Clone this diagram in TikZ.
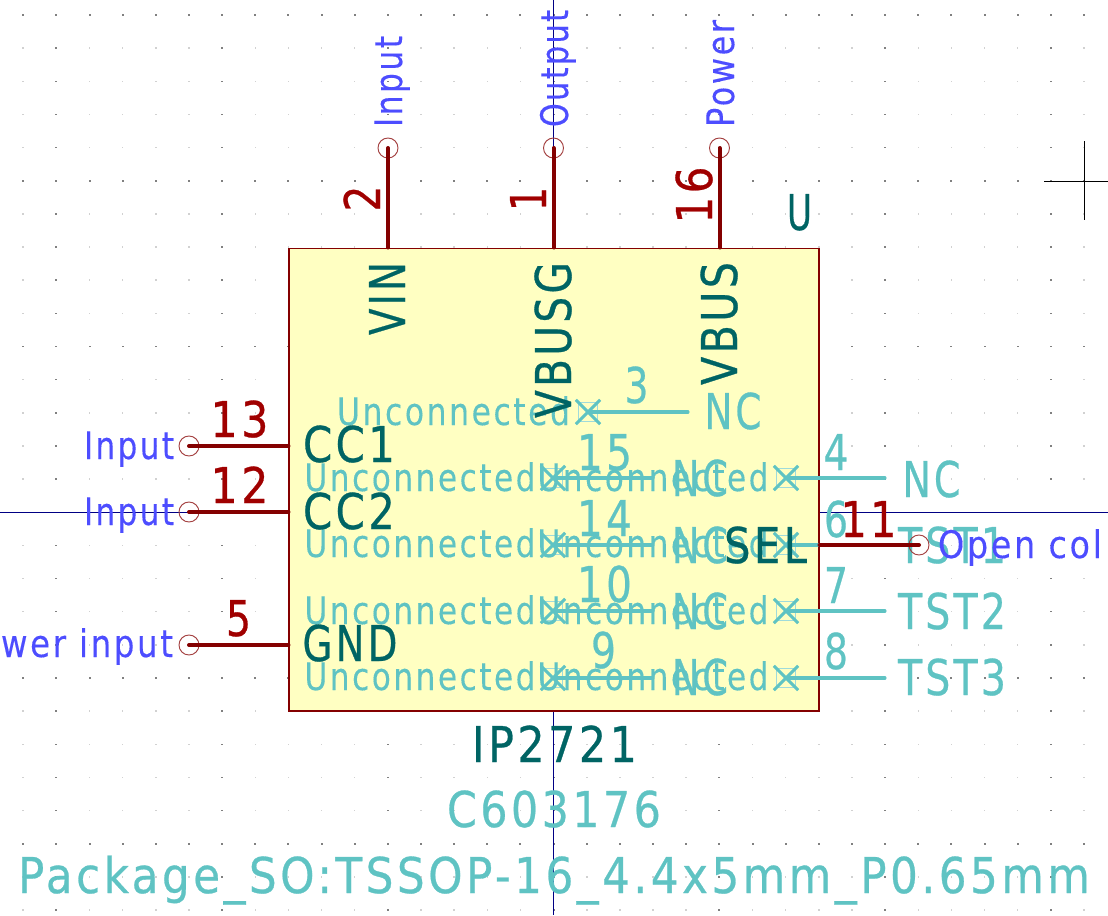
\documentclass[tikz,border=0pt]{standalone}
\usepackage{fontspec}
\usepackage{graphicx}
\usetikzlibrary{shapes.misc}
\newfontfamily\kfont[LetterSpace=8,FakeBold=0.25]{DejaVu Sans}
\newfontfamily\kfontl[LetterSpace=8,FakeBold=0.6]{DejaVu Sans}
\newcommand{\tx}[2]{\resizebox{\dimexpr0.75pt*#1\relax}{\height}{#2}}
\definecolor{bodyfill}{HTML}{FFFFC2}
\definecolor{pinred}{HTML}{840000}
\definecolor{numred}{HTML}{A00000}
\definecolor{lblblue}{HTML}{4D4DFF}
\definecolor{nameteal}{HTML}{006464}
\definecolor{hidteal}{HTML}{5FC3C3}
\definecolor{axisblue}{HTML}{000084}
\tikzset{
 x=0.75pt,y=-0.75pt,
 ktxt/.style={anchor=base,inner sep=0pt,outer sep=0pt},
 ksmall/.style={ktxt,font=\kfont\fontsize{28.5pt}{30pt}\selectfont},
 klarge/.style={ktxt,font=\kfontl\fontsize{37pt}{40pt}\selectfont},
 lbl/.style={ksmall,text=lblblue},
 hidsmall/.style={ksmall,text=hidteal},
 hidlarge/.style={klarge,text=hidteal},
 pinname/.style={klarge,text=nameteal},
 pinnum/.style={klarge,text=numred},
 hidnum/.style={klarge,text=hidteal},
 pinline/.style={draw=pinred,line width=3pt,line cap=round},
 hidline/.style={draw=hidteal,line width=2.3pt,line cap=round},
 pincirc/.style={circle,draw=pinred!75,line width=0.7pt,minimum size=15pt,inner sep=0pt},
 ncx/.style={cross out,draw=hidteal,line width=2.2pt,minimum size=16pt,inner sep=0pt},
 ncbox/.style={rectangle,draw=hidteal!60,line width=0.6pt,minimum size=14pt,inner sep=0pt},
 bodybox/.style={rectangle,draw=pinred,fill=bodyfill,line width=0.8pt,minimum width=397.5pt,minimum height=347.2pt,inner sep=0pt},
}
\begin{document}
\begin{tikzpicture}
\useasboundingbox (0,0) rectangle (1108,915);
% grid
\foreach \i in {0,...,32}{\foreach \j in {0,...,27}{
  \pgfmathtruncatemacro{\mi}{mod(\i,5)==1 ? 1 : 0}
  \pgfmathtruncatemacro{\mj}{mod(\j,5)==0 ? 1 : 0}
  \pgfmathtruncatemacro{\dk}{\mi+\mj}
  \ifnum\dk>0
    \fill[black!50] ({23.2+33.15*\i-1},{15+33.15*\j-0.75}) rectangle ++(2,1.5);
  \else
    \fill[black!18] ({23.2+33.15*\i-0.75},{15+33.15*\j-0.75}) rectangle ++(1.5,1.5);
  \fi
}}
% axes and cursor
\coordinate (axL) at (0,512); \coordinate (axR) at (1108,512);
\coordinate (axT) at (553.5,0); \coordinate (axB) at (553.5,915);
\draw[axisblue,line width=0.75pt] (axL) -- (axR);
\draw[axisblue,line width=0.75pt] (axT) -- (axB);
\coordinate (curL) at (1044,181); \coordinate (curR) at (1108,181);
\coordinate (curT) at (1084,141); \coordinate (curB) at (1084,220);
\draw[black,line width=0.75pt] (curL) -- (curR);
\draw[black,line width=0.75pt] (curT) -- (curB);
% body
\node[bodybox] (body) at (554,479.5) {};
% hidden pins
\foreach \n/\xa/\xb/\y in {3/588/688/412,15/553/653/478,14/553/653/545,10/553/653/611,9/553/653/678,4/786/885/478,6/786/885/545,7/786/885/611,8/786/885/678}{
  \node[ncbox] (box\n) at (\xa,\y) {};
  \node[ncx] (nc\n) at (\xa,\y) {};
  \coordinate (end\n) at (\xb,\y);
  \draw[hidline] (nc\n.center) -- (end\n);
}
% hidden texts
\node[hidsmall] (u3) at (453.5,425) {\tx{233}{Unconnected}};
\foreach \n/\y in {15/491,14/557,10/624,9/690}{\node[hidsmall] (ua\n) at (420,\y) {\tx{231}{Unconnected}};}
\foreach \n/\y in {4/491,6/557,7/624,8/690}{\node[hidsmall] (ub\n) at (653,\y) {\tx{231}{Unconnected}};}
\node[hidlarge] (nc3t) at (733,429) {\tx{57}{NC}};
\foreach \n/\y in {15/496,14/563,10/629,9/695}{\node[hidlarge] (nt\n) at (700,\y) {\tx{56}{NC}};}
\node[hidlarge] (nt4) at (931.5,497) {\tx{58}{NC}};
\node[hidlarge] (tst1) at (952,563) {\tx{108}{TST1}};
\node[hidlarge] (tst2) at (952,629) {\tx{108}{TST2}};
\node[hidlarge] (tst3) at (952,695) {\tx{108}{TST3}};
\node[hidnum] (n3) at (636.5,403) {\tx{24}{3}};
\node[hidnum] (n15) at (604.5,470) {\tx{55}{15}};
\node[hidnum] (n14) at (604.5,536) {\tx{55}{14}};
\node[hidnum] (n10) at (604.5,602) {\tx{55}{10}};
\node[hidnum] (n9) at (603.5,668) {\tx{25}{9}};
\node[hidnum] (n4) at (836,470) {\tx{25}{4}};
\node[hidnum] (n6) at (836,537) {\tx{24}{6}};
\node[hidnum] (n7) at (836,603) {\tx{24}{7}};
\node[hidnum] (n8) at (836,669) {\tx{24}{8}};
% visible pins
\foreach \n/\x in {p2/388,p1/553.5,p16/719.5}{
  \node[pincirc] (\n) at (\x,148) {};
  \draw[pinline] (\n.center) -- (\n.center |- body.north);
}
\foreach \n/\y in {p13/446,p12/512,p5/645}{
  \node[pincirc] (\n) at (189,\y) {};
  \draw[pinline] (\n.center) -- (\n.center -| body.west);
}
\node[pincirc] (p11) at (919,545) {};
\draw[pinline] (p11.center) -- (p11.center -| body.east);
% pin numbers
\node[pinnum,rotate=90] (t2) at (380,198.5) {\tx{26}{2}};
\node[pinnum,rotate=90] (t1) at (546,199) {\tx{24}{1}};
\node[pinnum,rotate=90] (t16) at (712,195) {\tx{57}{16}};
\node[pinnum] (t13) at (239.5,437) {\tx{58}{13}};
\node[pinnum] (t12) at (239.5,503) {\tx{58}{12}};
\node[pinnum] (t5) at (238.5,636) {\tx{25}{5}};
\node[pinnum] (t11) at (868.5,537) {\tx{56}{11}};
% pin names
\node[pinname,rotate=90] (vin) at (405,298.5) {\tx{73}{VIN}};
\node[pinname,rotate=90] (vbusg) at (571,340) {\tx{156}{VBUSG}};
\node[pinname,rotate=90] (vbus) at (737,323.5) {\tx{123}{VBUS}};
\node[pinname] (cc1) at (349,462) {\tx{92}{CC1}};
\node[pinname] (cc2) at (349,529) {\tx{92}{CC2}};
\node[pinname] (gnd) at (350,661) {\tx{95}{GND}};
\node[pinname] (sel) at (765.5,563) {\tx{83}{SEL}};
% labels
\node[lbl,rotate=90] (li2) at (402,81.5) {\tx{91}{Input}};
\node[lbl,rotate=90] (lo1) at (568,68.5) {\tx{117}{Output}};
\node[lbl,rotate=90] (lp16) at (734,73.5) {\tx{107}{Power}};
\node[lbl] (li13) at (129,459) {\tx{90}{Input}};
\node[lbl] (li12) at (129,525) {\tx{90}{Input}};
\node[lbl] (lp5) at (87,657) {\tx{172}{wer input}};
\node[lbl] (lo11) at (1020,558) {\tx{164}{Open col}};
% references
\node[pinname] (refU) at (799.5,230) {\tx{25}{U}};
\node[pinname] (val) at (554.5,762) {\tx{165}{IP2721}};
\node[hidlarge] (fld) at (554,827) {\tx{214}{C603176}};
\node[hidlarge] (pkg) at (554,893) {\tx{1072}{Package\_SO:TSSOP-16\_4.4x5mm\_P0.65mm}};
\end{tikzpicture}
\end{document}
